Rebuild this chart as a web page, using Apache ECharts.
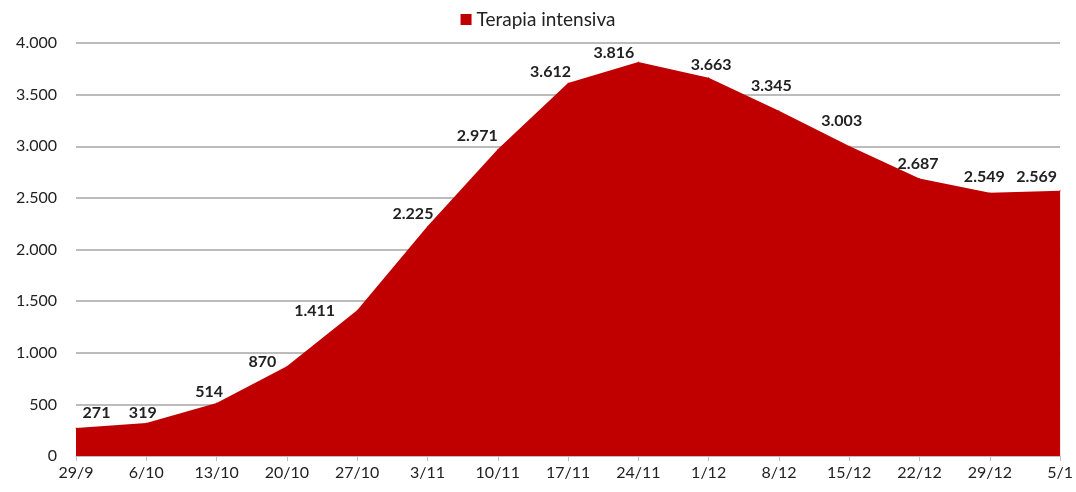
<!DOCTYPE html>
<html>
<head>
<meta charset="utf-8">
<script src="https://cdn.jsdelivr.net/npm/echarts@6/dist/echarts.min.js"></script>
<style>
  html, body { margin: 0; padding: 0; background: #fff; }
  #chart { width: 1076px; height: 492px; }
</style>
</head>
<body>
<div id="chart"></div>
<script>
// settimane (date di inizio)
const categories = ['29/9', '6/10', '13/10', '20/10', '27/10', '3/11', '10/11', '17/11',
  '24/11', '1/12', '8/12', '15/12', '22/12', '29/12', '5/1'];
// ricoverati in terapia intensiva
const terapiaIntensiva = [271, 319, 514, 870, 1411, 2225, 2971, 3612,
  3816, 3663, 3345, 3003, 2687, 2549, 2569];
const seriesName = 'Terapia intensiva';

// separatore delle migliaia con il punto
function fmt(v) {
  return String(v).replace(/\B(?=(\d{3})+(?!\d))/g, '.');
}

const FONT = 'Lato, "Open Sans", sans-serif';
const RED = '#c00000';

// centro delle etichette rispetto al punto (posizionate a mano nell'originale), in px
const labelNudge = [[21, -15], [-3, -10], [-7, -11], [-24, -4], [-42, 1], [-14, -12], [-20, -13],
  [-17, -11], [-24, -9], [3, -12], [-7, -24], [-7, -25], [-1, -14], [-5, -15], [-23, -13]];

const chart = echarts.init(document.getElementById('chart'));

chart.setOption({
  animation: false,
  backgroundColor: '#ffffff',
  legend: {
    top: 5,
    left: 'center',
    itemWidth: 11,
    itemHeight: 11,
    itemGap: 6,
    icon: 'rect',
    textStyle: { fontFamily: FONT, fontSize: 19, color: '#222' },
    data: [{ name: seriesName, itemStyle: { color: RED, opacity: 1 } }]
  },
  grid: { left: 76, right: 14, top: 43, bottom: 36, containLabel: false },
  xAxis: {
    type: 'category',
    data: categories,
    boundaryGap: false,
    axisLine: { lineStyle: { color: '#bfbfbf', width: 1 } },
    axisTick: { show: true, length: 5, lineStyle: { color: '#bfbfbf' } },
    axisLabel: { fontFamily: FONT, fontSize: 16, color: '#222', margin: 9 }
  },
  yAxis: {
    type: 'value',
    min: 0,
    max: 4000,
    interval: 500,
    axisLine: { show: false },
    axisTick: { show: false },
    axisLabel: {
      fontFamily: FONT, fontSize: 16, color: '#222', margin: 19,
      formatter: fmt
    },
    splitLine: { lineStyle: { color: '#a6a6a6', width: 1.5 } }
  },
  series: [{
    name: seriesName,
    type: 'line',
    data: terapiaIntensiva.map((v, i) => ({
      value: v,
      label: {
        position: labelNudge[i],
        align: 'center',
        verticalAlign: 'middle'
      }
    })),
    symbol: 'circle',
    symbolSize: 1,
    showSymbol: true,
    itemStyle: { color: RED },
    color: RED,
    lineStyle: { width: 0 },
    areaStyle: { color: RED, opacity: 1 },
    label: {
      show: true,
      fontFamily: FONT,
      fontSize: 16,
      fontWeight: 'bold',
      color: '#222',
      formatter: p => fmt(p.value)
    },
    labelLayout: { hideOverlap: false }
  }]
});
</script>
</body>
</html>
